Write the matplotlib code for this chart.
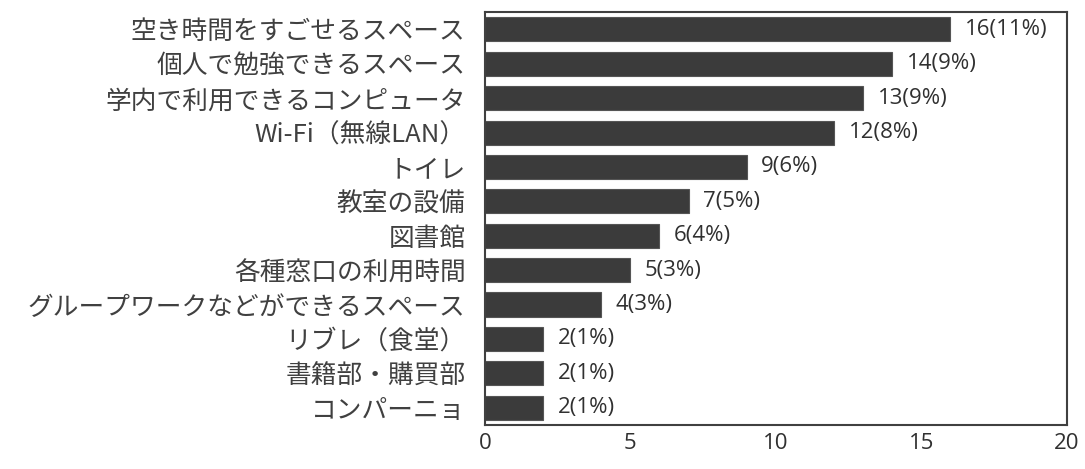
import matplotlib.pyplot as plt

# 項目と回答数
labels = ["空き時間をすごせるスペース", "個人で勉強できるスペース", "学内で利用できるコンピュータ",
          "Wi-Fi（無線LAN）", "トイレ", "教室の設備", "図書館", "各種窓口の利用時間",
          "グループワークなどができるスペース", "リブレ（食堂）", "書籍部・購買部", "コンパーニョ"]
counts = [16, 14, 13, 12, 9, 7, 6, 5, 4, 2, 2, 2]
percents = [11, 9, 9, 8, 6, 5, 4, 3, 3, 1, 1, 1]
xticks = [0, 5, 10, 15, 20]

plt.rcParams['font.family'] = ['Noto Sans CJK JP', 'DejaVu Sans']
text_color = "#404040"

fig = plt.figure(figsize=(10.85, 4.69), dpi=100)
ax = fig.add_axes([0.447, 0.094, 0.536, 0.880])

y = list(range(len(labels)))
ax.barh(y, counts, height=0.7, color="#3b3b3b", edgecolor="#555555", linewidth=0.8)

for yi, c, p in zip(y, counts, percents):
    ax.text(c + 0.5, yi, f"{c}({p}%)", va="center", ha="left", fontsize=16,
            fontweight="medium", color="#303030", family=["Open Sans", "DejaVu Sans"])

ax.set_ylim(len(labels) - 0.5, -0.5)
ax.set_xlim(0, 20)
ax.set_yticks(y)
ax.set_yticklabels(labels, fontsize=18.5, color=text_color)
ax.set_xticks(xticks)
ax.set_xticklabels([str(t) for t in xticks], fontsize=16, color="#303030",
                   family=["Open Sans", "DejaVu Sans"])
ax.tick_params(length=0)
ax.tick_params(axis="x", pad=6)
ax.tick_params(axis="y", pad=14)

for s in ax.spines.values():
    s.set_color("#404040")
    s.set_linewidth(1.5)

plt.savefig("out.png", dpi=100)
